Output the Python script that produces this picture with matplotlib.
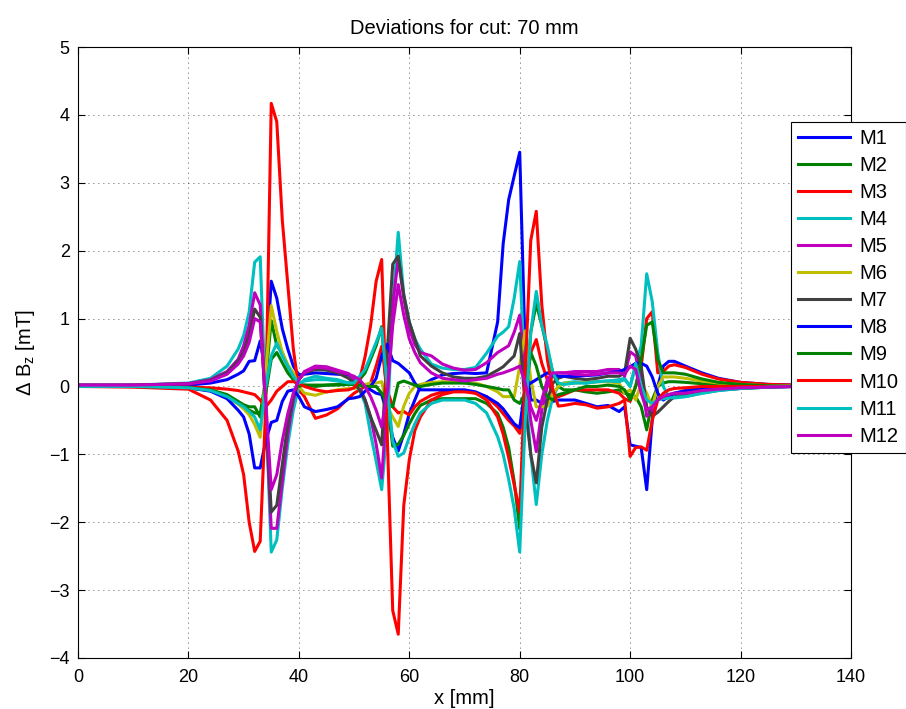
import matplotlib
matplotlib.use("Agg")
import matplotlib.pyplot as plt

plt.rcParams["font.family"] = ["Liberation Sans", "DejaVu Sans"]
plt.rcParams["mathtext.fontset"] = "custom"
plt.rcParams["mathtext.rm"] = "Liberation Sans"
plt.rcParams["mathtext.it"] = "Liberation Sans:italic"

# sample positions along the cut [mm]
x_mm = [0, 10, 20, 24, 27, 29, 30, 31, 32, 33, 34, 35, 36, 37, 38, 39, 40, 41,
        43, 45, 47, 49, 50,
        51, 52, 53, 54, 55, 56, 57, 58, 59, 60, 61, 62,
        64, 66, 68, 70, 72, 74,
        76, 77, 78, 79, 80, 81, 82, 83, 84, 85, 86, 87, 88,
        90, 92, 94, 96, 98,
        99, 100, 101, 102, 103, 104, 105, 106, 107, 108,
        110, 113, 116, 120, 125, 130]

# field deviation per magnet [mT]
m1 = [0.0, 0.0, 0.02, 0.05, 0.1, 0.18, 0.23, 0.37, 0.38, 0.67, 0.2, 1.55, 1.3, 0.85, 0.55, 0.3, 0.17, 0.18,
      0.2, 0.19, 0.18, 0.17, 0.12,
      0.07, 0.0, -0.05, -0.1, -0.12, -0.4, -0.75, -0.95, -0.7, -0.4, -0.2, 0.0,
      0.1, 0.17, 0.19, 0.2, 0.19, 0.2,
      0.95, 2.1, 2.75, 3.1, 3.45, 0.5, -0.2, -0.2, -0.25, -0.2, -0.22, -0.2, -0.2,
      -0.2, -0.25, -0.3, -0.28, -0.37,
      -0.3, -0.86, -0.88, -0.9, -1.52, -0.49, 0.0, 0.3, 0.37, 0.37,
      0.3, 0.2, 0.12, 0.06, 0.03, 0.02]
m2 = [0.0, 0.0, -0.02, -0.06, -0.15, -0.25, -0.3, -0.35, -0.39, -0.4, 0.1, 0.97, 0.6, 0.5, 0.3, 0.15, 0.02, 0.02,
      0.0, 0.02, 0.03, 0.05, 0.07,
      0.1, 0.2, 0.4, 0.6, 0.88, -0.2, -0.88, -0.85, -0.72, -0.55, -0.4, -0.28,
      -0.2, -0.18, -0.18, -0.18, -0.18, -0.25,
      -0.4, -0.6, -0.9, -1.4, -2.1, -0.3, 0.8, 1.22, 0.9, 0.55, 0.2, 0.0, -0.05,
      -0.05, -0.08, -0.1, -0.08, -0.05,
      -0.1, -0.12, -0.15, -0.3, -0.64, -0.2, 0.0, 0.05, 0.07, 0.07,
      0.06, 0.04, 0.02, 0.01, 0.0, 0.0]
m3 = [0.0, 0.0, -0.01, -0.02, -0.04, -0.06, -0.08, -0.1, -0.12, -0.2, -0.32, 4.17, 3.9, 2.45, 1.5, 0.55, -0.05, -0.15,
      -0.47, -0.42, -0.33, -0.17, -0.1,
      -0.05, 0.0, 0.05, 0.3, 0.59, -0.05, -0.3, -0.39, -0.37, -0.42, -0.3, -0.22,
      -0.13, -0.08, -0.06, -0.06, -0.1, -0.15,
      -0.3, -0.4, -0.5, -0.58, -0.69, -0.1, 0.5, 0.69, 0.34, 0.1, -0.1, -0.15, -0.12,
      -0.05, -0.05, -0.05, -0.05, -0.1,
      -0.18, -0.22, 0.0, 0.29, 1.0, 1.1, 0.2, 0.22, 0.3, 0.32,
      0.28, 0.18, 0.11, 0.06, 0.03, 0.02]
m4 = [0.02, 0.02, 0.05, 0.12, 0.3, 0.55, 0.75, 1.1, 1.83, 1.91, -0.3, -2.44, -2.26, -1.5, -0.85, -0.35, 0.0, 0.1,
      0.15, 0.12, 0.1, 0.05, 0.02,
      -0.05, -0.25, -0.7, -1.1, -1.52, -0.6, 1.2, 2.27, 1.35, 0.95, 0.7, 0.55,
      0.33, 0.27, 0.25, 0.25, 0.28, 0.49,
      0.74, 0.8, 0.88, 1.3, 1.84, 0.0, -1.0, -1.74, -1.0, -0.5, -0.15, 0.0, 0.05,
      0.07, 0.05, 0.07, 0.08, 0.1,
      0.12, 0.0, 0.3, 0.6, 1.66, 1.25, 0.5, 0.0, -0.15, -0.17,
      -0.15, -0.1, -0.06, -0.03, -0.01, 0.0]
m5 = [0.02, 0.02, 0.04, 0.1, 0.22, 0.4, 0.6, 0.9, 1.38, 1.2, -0.4, -2.09, -2.09, -1.4, -0.7, -0.2, 0.1, 0.22,
      0.3, 0.29, 0.24, 0.19, 0.1,
      0.0, -0.2, -0.45, -0.85, -1.35, -0.2, 1.2, 1.88, 1.3, 0.85, 0.62, 0.5,
      0.45, 0.33, 0.27, 0.24, 0.25, 0.35,
      0.5, 0.55, 0.6, 0.8, 1.05, 0.2, -0.5, -0.96, -0.35, 0.0, 0.17, 0.2, 0.2,
      0.22, 0.22, 0.22, 0.25, 0.25,
      0.15, 0.51, 0.45, 0.1, -0.44, -0.35, -0.2, -0.15, -0.12, -0.1,
      -0.1, -0.06, -0.04, -0.02, -0.01, 0.0]
m6 = [0.0, 0.0, -0.02, -0.06, -0.15, -0.26, -0.33, -0.42, -0.56, -0.75, 0.2, 1.19, 0.81, 0.5, 0.32, 0.2, 0.0, -0.1,
      -0.13, -0.08, -0.05, -0.03, -0.03,
      0.0, 0.03, 0.05, 0.05, 0.07, -0.3, -0.45, -0.59, -0.29, -0.1, 0.0, 0.03,
      0.06, 0.07, 0.07, 0.05, 0.05, 0.0,
      -0.08, -0.15, -0.15, -0.15, 0.3, 0.82, 0.1, -0.3, -0.3, -0.29, -0.1, 0.0, 0.05,
      0.05, 0.06, 0.07, 0.07, 0.05,
      -0.1, -0.05, -0.2, 0.05, -0.1, -0.3, 0.0, 0.14, 0.14, 0.14,
      0.12, 0.08, 0.05, 0.03, 0.01, 0.01]
m7 = [0.02, 0.02, 0.04, 0.09, 0.2, 0.37, 0.5, 0.75, 1.14, 1.02, -0.3, -1.85, -1.75, -1.15, -0.55, -0.15, 0.1, 0.2,
      0.25, 0.24, 0.2, 0.12, 0.05,
      -0.05, -0.2, -0.45, -0.65, -0.86, 0.5, 1.8, 1.92, 1.35, 0.95, 0.7, 0.45,
      0.3, 0.2, 0.14, 0.12, 0.12, 0.15,
      0.24, 0.29, 0.37, 0.45, 0.78, -0.3, -1.0, -1.42, -0.6, -0.2, 0.05, 0.12, 0.15,
      0.12, 0.1, 0.12, 0.15, 0.15,
      0.2, 0.71, 0.55, 0.3, -0.3, -0.44, -0.38, -0.3, -0.22, -0.15,
      -0.13, -0.08, -0.05, -0.03, -0.01, 0.0]
m8 = [0.0, 0.0, -0.02, -0.07, -0.18, -0.35, -0.45, -0.7, -1.2, -1.2, -0.8, -0.53, -0.5, -0.22, -0.07, -0.05, -0.15, -0.3,
      -0.37, -0.34, -0.3, -0.18, -0.17,
      -0.15, -0.07, 0.0, 0.12, 0.45, 0.62, 0.38, 0.34, 0.27, 0.2, 0.05, -0.05,
      -0.05, -0.05, -0.05, -0.05, -0.08, -0.15,
      -0.25, -0.33, -0.44, -0.55, -0.61, 0.0, 0.05, 0.1, 0.15, 0.2, 0.17, 0.15, 0.15,
      0.15, 0.16, 0.17, 0.2, 0.22,
      0.25, 0.29, 0.34, 0.34, 0.3, 0.14, -0.1, -0.2, -0.15, -0.1,
      -0.06, -0.03, -0.02, -0.01, 0.0, 0.0]
m9 = [0.0, 0.0, -0.02, -0.05, -0.12, -0.22, -0.27, -0.3, -0.3, -0.45, -0.1, 0.4, 0.5, 0.35, 0.2, 0.1, 0.0, 0.02,
      0.02, 0.02, 0.02, 0.03, 0.03,
      0.02, 0.0, 0.0, 0.0, -0.1, -0.25, -0.3, 0.05, 0.08, 0.05, 0.02, 0.0,
      0.03, 0.05, 0.05, 0.05, 0.03, 0.0,
      -0.03, -0.05, -0.05, -0.2, -0.25, -0.1, 0.5, 0.3, 0.0, -0.15, -0.2, -0.12, -0.1,
      -0.05, 0.0, 0.0, 0.02, 0.0,
      -0.05, -0.2, 0.0, 0.4, 0.9, 0.95, 0.4, 0.2, 0.2, 0.2,
      0.18, 0.11, 0.06, 0.03, 0.01, 0.0]
m10 = [0.0, -0.01, -0.04, -0.2, -0.5, -0.95, -1.3, -2.0, -2.43, -2.28, -0.3, -0.2, -0.07, 0.0, 0.07, 0.07, 0.05, 0.0,
       -0.05, -0.08, -0.06, -0.05, -0.02,
       0.1, 0.44, 0.9, 1.55, 1.87, -0.7, -3.3, -3.65, -1.75, -1.08, -0.65, -0.45,
       -0.2, -0.12, -0.08, -0.08, -0.1, -0.2,
       -0.45, -0.7, -1.05, -1.45, -1.85, 0.2, 2.15, 2.58, 1.2, 0.4, -0.05, -0.29, -0.28,
       -0.25, -0.27, -0.32, -0.3, -0.25,
       -0.2, -1.03, -0.9, -0.89, -0.94, -0.5, -0.2, -0.1, -0.05, -0.03,
       -0.02, 0.0, 0.0, 0.0, 0.0, 0.0]
m11 = [0.0, 0.0, -0.02, -0.06, -0.15, -0.25, -0.3, -0.37, -0.45, -0.64, 0.0, 0.45, 0.64, 0.45, 0.3, 0.15, 0.05, 0.08,
       0.1, 0.1, 0.08, 0.05, 0.05,
       0.15, 0.25, 0.45, 0.65, 0.86, 0.0, -0.8, -1.03, -0.98, -0.75, -0.55, -0.39,
       -0.25, -0.2, -0.2, -0.2, -0.25, -0.39,
       -0.74, -1.0, -1.37, -1.8, -2.44, -0.5, 0.8, 1.4, 0.9, 0.6, 0.2, 0.05, 0.03,
       0.05, 0.05, 0.07, 0.08, 0.07,
       0.1, 0.0, 0.34, 0.0, -0.2, -0.25, -0.2, -0.18, -0.17, -0.16,
       -0.15, -0.1, -0.06, -0.03, -0.01, 0.0]
m12 = [0.02, 0.02, 0.04, 0.08, 0.18, 0.33, 0.45, 0.65, 1.0, 0.95, -0.2, -1.52, -1.3, -0.8, -0.4, -0.1, 0.1, 0.2,
       0.28, 0.27, 0.22, 0.18, 0.15,
       0.1, 0.0, -0.15, -0.35, -0.6, -0.1, 0.9, 1.5, 1.05, 0.7, 0.5, 0.35,
       0.2, 0.12, 0.1, 0.08, 0.1, 0.12,
       0.18, 0.2, 0.23, 0.26, 0.3, 0.05, -0.3, -0.5, -0.2, 0.1, 0.2, 0.2, 0.2,
       0.18, 0.17, 0.18, 0.2, 0.2,
       0.18, 0.3, 0.25, -0.1, -0.35, -0.3, -0.2, -0.15, -0.12, -0.1,
       -0.1, -0.06, -0.04, -0.02, -0.01, 0.0]

series = [m1, m2, m3, m4, m5, m6, m7, m8, m9, m10, m11, m12]
labels = ["M" + str(i) for i in range(1, 13)]
# matlab default line colour order
colors = ["#0000ff", "#008000", "#ff0000", "#00bfbf", "#bf00bf", "#bfbf00", "#404040"]

fig = plt.figure(figsize=(9.06, 7.09), dpi=100)
ax = fig.add_axes([78 / 906, 51 / 709, 773 / 906, 611 / 709])

for i, y in enumerate(series):
    ax.plot(x_mm, y, color=colors[i % len(colors)], linewidth=2.2, label=labels[i])

ax.set_xlim(0, 140)
ax.set_ylim(-4, 5)
ax.set_xticks(range(0, 141, 20))
ax.set_yticks(range(-4, 6))
ax.grid(True, color="#222222", linestyle=(0, (1, 5)), linewidth=0.6)
ax.tick_params(direction="in", top=True, right=True, length=5, labelsize=13)
ax.tick_params(axis="x", pad=8)
ax.tick_params(axis="y", pad=6)
for s in ax.spines.values():
    s.set_linewidth(0.8)

ax.set_title("Deviations for cut: 70 mm", fontsize=14.5, pad=9)
ax.set_xlabel("x [mm]", fontsize=14.5, labelpad=2)
ax.set_ylabel("\u0394 B$_\\mathrm{z}$ [mT]", fontsize=14.5, labelpad=9)

leg = fig.legend(loc="upper left", bbox_to_anchor=(791 / 906, 1 - 122 / 709),
                 bbox_transform=fig.transFigure, fontsize=14.5, frameon=True,
                 fancybox=False, handlelength=2.6, handletextpad=0.45,
                 labelspacing=0.4, borderpad=0.35, borderaxespad=0)
leg.get_frame().set_edgecolor("black")
leg.get_frame().set_linewidth(0.8)
leg.get_frame().set_alpha(1)

fig.savefig("out.png", dpi=100)
